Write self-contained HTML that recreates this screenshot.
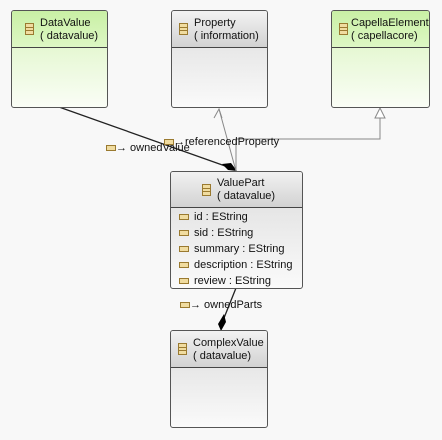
<!DOCTYPE html>
<html><head><style>
body{margin:0;width:442px;height:440px;background:#f8f8f8;position:relative;font-family:"Liberation Sans",sans-serif;font-size:11px;color:#111;overflow:hidden}
.n{position:absolute;border:1px solid #555;border-radius:3px;box-sizing:border-box;overflow:hidden}
.h{position:absolute;left:0;right:0;top:0;border-bottom:1px solid #444;box-sizing:border-box}
.g .h{background:linear-gradient(#c9f0a5,#ddf7c4)}
.g{background:linear-gradient(#d9f5bd,#fafdf6)}
.y .h{background:linear-gradient(#f2f2f2,#d2d2d2)}
.y{background:linear-gradient(#dcdcdc,#fafafa)}
.ic{position:absolute;width:7px;height:10px;border:1px solid #9a7a30;background:#f0dca0}
.ic:before,.ic:after{content:"";position:absolute;left:0;right:0;height:1px;background:#9a7a30}
.ic:before{top:3px}.ic:after{top:6px}
.t{position:absolute;line-height:13px;white-space:nowrap}
.a{position:absolute;left:8px;line-height:16px;white-space:nowrap}
.a i{display:inline-block;width:8px;height:4px;border:1px solid #9a7a30;background:#f0dca0;margin-right:5px;vertical-align:middle}
.l{position:absolute;white-space:nowrap;font-size:11px}
</style></head><body>
<svg width="442" height="440" style="position:absolute;left:0;top:0">
<line x1="59" y1="107" x2="228" y2="167" stroke="#222" stroke-width="1.3"/>
<polygon points="237,171 231,163 222,164 228,170" fill="#000"/>
<line x1="236" y1="171" x2="219" y2="109" stroke="#888"/>
<polyline points="214,118 219,109 222,118" fill="none" stroke="#888"/>
<polyline points="236,171 236,139 380,139 380,118" fill="none" stroke="#888"/>
<polygon points="380,108 375,118 385,118" fill="#fff" stroke="#888"/>
<line x1="236" y1="288" x2="224" y2="318" stroke="#222" stroke-width="1.3"/>
<polygon points="221,331 218,324 224,314 226,322" fill="#000"/>
</svg>
<div class="n g" style="left:11px;top:10px;width:97px;height:98px"><div class="h" style="height:37px"></div><div class="ic" style="left:13px;top:12px"></div><div class="t" style="left:28px;top:6px">DataValue<br>( datavalue)</div></div>
<div class="n y" style="left:171px;top:10px;width:97px;height:98px"><div class="h" style="height:37px"></div><div class="ic" style="left:7px;top:12px"></div><div class="t" style="left:22px;top:6px">Property<br>( information)</div></div>
<div class="n g" style="left:331px;top:10px;width:99px;height:98px"><div class="h" style="height:37px"></div><div class="ic" style="left:7px;top:12px"></div><div class="t" style="left:19px;top:6px">CapellaElement<br>( capellacore)</div></div>
<div class="n y" style="left:170px;top:171px;width:133px;height:118px"><div class="h" style="height:36px"></div><div class="ic" style="left:31px;top:12px"></div><div class="t" style="left:46px;top:5px">ValuePart<br>( datavalue)</div>
<div class="a" style="top:37px"><i></i>id : EString</div>
<div class="a" style="top:53px"><i></i>sid : EString</div>
<div class="a" style="top:69px"><i></i>summary : EString</div>
<div class="a" style="top:85px"><i></i>description : EString</div>
<div class="a" style="top:101px"><i></i>review : EString</div></div>
<div class="n y" style="left:170px;top:330px;width:98px;height:98px"><div class="h" style="height:37px"></div><div class="ic" style="left:7px;top:12px"></div><div class="t" style="left:22px;top:6px">ComplexValue<br>( datavalue)</div></div>
<div class="l" style="left:106px;top:142px"><span style="display:inline-block;width:8px;height:4px;border:1px solid #9a7a30;background:#f0dca0;vertical-align:middle"></span>→ ownedValue</div>
<div class="l" style="left:164px;top:136px"><span style="display:inline-block;width:8px;height:4px;border:1px solid #9a7a30;background:#f0dca0;vertical-align:middle"></span>→referencedProperty</div>
<div class="l" style="left:180px;top:299px"><span style="display:inline-block;width:8px;height:4px;border:1px solid #9a7a30;background:#f0dca0;vertical-align:middle"></span>→ ownedParts</div>
</body></html>
